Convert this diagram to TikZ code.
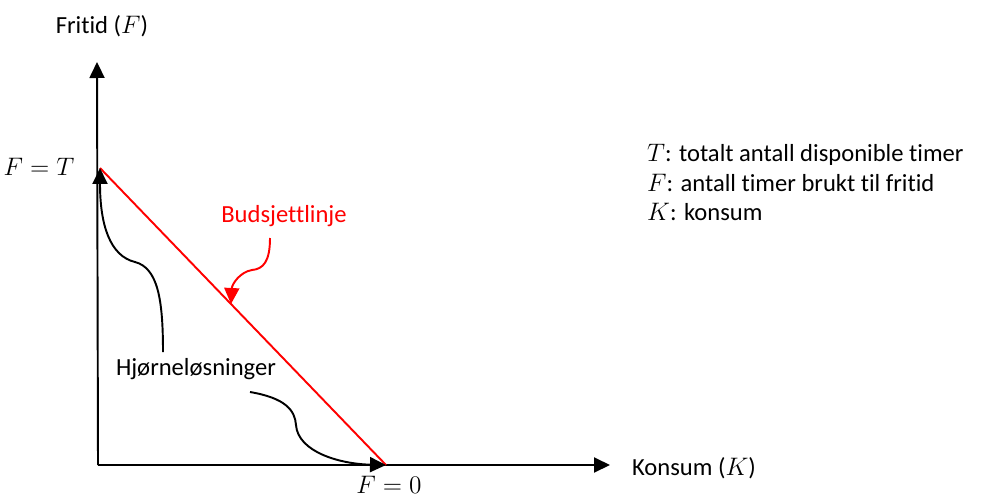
\documentclass[tikz,border=0pt]{standalone}
\usepackage{fontspec}
\setmainfont{Carlito}[Ligatures=NoCommon]
\usepackage{tikz}
\usetikzlibrary{arrows.meta, calc}
\tikzset{
    akse/.style={
        -{Triangle[length=0.32cm, width=0.3cm]},
        line width=1.1pt
    },
    pil/.style={-{Triangle[length=0.32cm, width=0.3cm]}, line width=1.1pt},
    tekst/.style={font=\fontsize{14}{17}\selectfont, inner sep=1pt}
}
\begin{document}
\begin{tikzpicture}[x=0.02cm, y=-0.02cm]

    \useasboundingbox (0,0) rectangle (987,497);

    % akser
    \coordinate (origo) at (98,465);
    \coordinate (ytopp) at (97,62);
    \coordinate (xende) at (610,465);
    \draw[akse] (origo) -- (ytopp);
    \draw[akse] (origo) -- (xende);

    \node[tekst] (fritid) at (102,26) {Fritid ($F$)};
    \node[tekst, anchor=west] (konsum) at (630,468) {Konsum ($K$)};

    % budsjettlinje
    \coordinate (FT) at (100,168);
    \coordinate (F0) at (386,465);
    \draw[red, line width=1.1pt] (FT) -- (F0);

    \node[tekst] (ftlabel) at (39,167) {$F=T$};
    \node[tekst] (f0label) at (389,485) {$F=0$};

    \node[tekst, text=red] (budsjett) at (284,216) {Budsjettlinje};
    \coordinate (bstart) at (270,238);
    \coordinate (btupp) at (231,304);
    \draw[pil, red] (bstart) .. controls (270,262) and (263,269) .. (252,270)
        .. controls (240,272) and (232,284) .. (btupp);

    % hjørneløsninger
    \node[tekst] (hjorne) at (196,369) {Hjørneløsninger};
    \coordinate (h1) at (163,352);
    \coordinate (h2) at (250,392);
    \draw[pil] (h1) .. controls (163,300) and (158,268) .. (135,262)
        .. controls (110,256) and (100,225) .. (FT);
    \draw[pil] (h2) .. controls (285,398) and (295,410) .. (296,425)
        .. controls (298,452) and (340,464) .. (F0);

    % forklaring
    \node[tekst, anchor=west] (forklT) at (645,155) {$T$: totalt antall disponible timer};
    \node[tekst, anchor=west] (forklF) at (645,183) {$F$: antall timer brukt til fritid};
    \node[tekst, anchor=west] (forklK) at (645,212) {$K$: konsum};

\end{tikzpicture}
\end{document}
